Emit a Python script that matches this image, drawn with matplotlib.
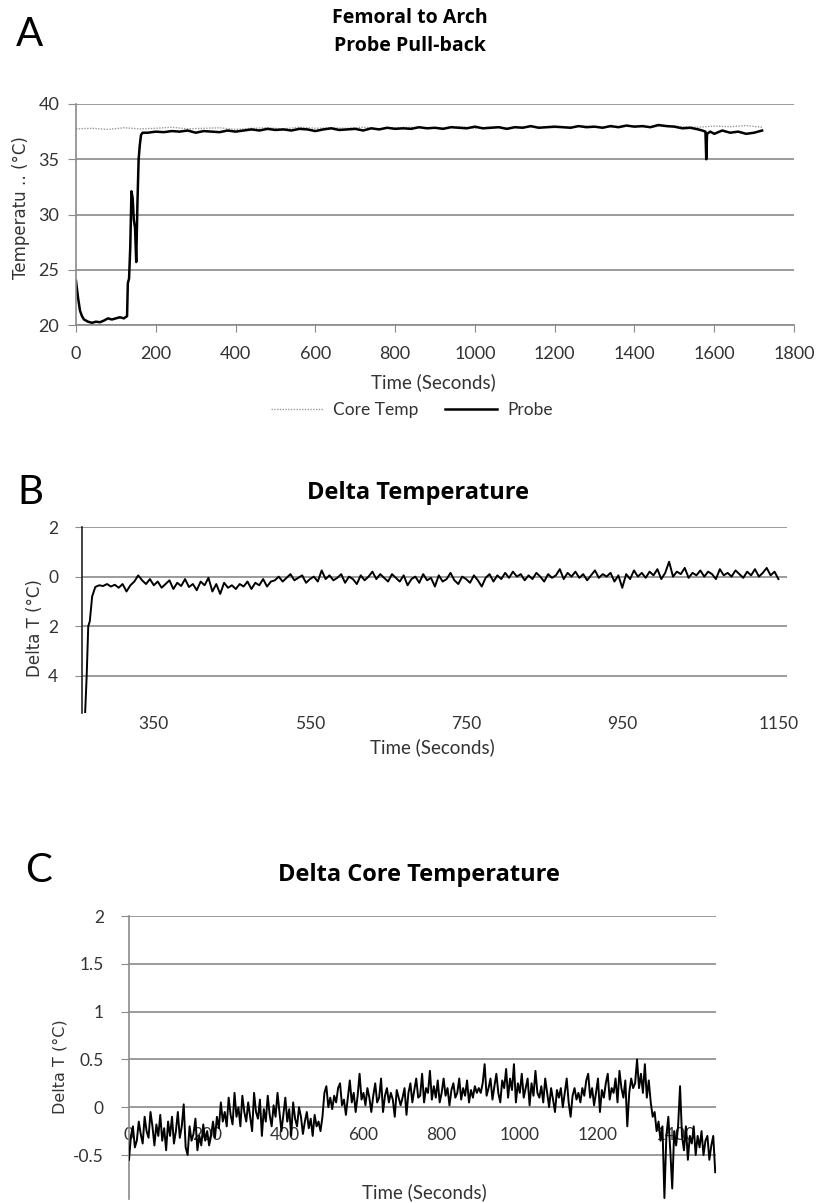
import numpy as np
import matplotlib.pyplot as plt

# figure is 819 x 1203 px
W, H = 819, 1203
plt.rcParams['font.family'] = ['Lato', 'DejaVu Sans']
TICKC = '#333333'
GRIDC = '#8a8a8a'

# ---- Panel A: femoral to arch pull-back ----
a_probe_t = [0, 5, 10, 15, 20, 30, 40, 50, 60, 70, 80, 90, 100, 110, 120, 128,
             130, 133, 136, 139, 142, 145, 148, 151, 154, 157, 160, 163, 167] + \
            list(range(180, 1561, 20)) + [1570, 1578, 1580, 1582, 1590] + list(range(1600, 1721, 20))
a_probe = [24.0, 22.5, 21.3, 20.8, 20.5, 20.3, 20.2, 20.3, 20.25, 20.4, 20.6, 20.5, 20.6, 20.7, 20.6, 20.8,
           23.8, 24.2, 27.0, 32.1, 31.5, 29.5, 28.8, 25.7, 31.0, 35.0, 36.3, 37.2, 37.4,
           # 180-400
           37.4, 37.5, 37.45, 37.55, 37.5, 37.6, 37.4, 37.55, 37.5, 37.45, 37.6, 37.5,
           # 420-800
           37.6, 37.7, 37.6, 37.75, 37.65, 37.7, 37.6, 37.75, 37.7, 37.55,
           37.7, 37.8, 37.65, 37.7, 37.75, 37.6, 37.8, 37.7, 37.85, 37.75,
           # 820-1200
           37.8, 37.75, 37.9, 37.8, 37.85, 37.75, 37.9, 37.85, 37.8, 37.95,
           37.8, 37.85, 37.9, 37.75, 37.9, 37.85, 38.0, 37.85, 37.9, 37.95,
           # 1220-1560
           37.9, 37.85, 38.0, 37.9, 37.95, 37.85, 38.0, 37.9, 38.05, 37.95,
           38.0, 37.9, 38.1, 38.0, 37.95, 37.8, 37.85, 37.7,
           # spike
           37.6, 37.5, 35.0, 37.3, 37.5,
           # 1600-1720
           37.3, 37.6, 37.4, 37.5, 37.3, 37.4, 37.6]
a_core_t = list(range(0, 1721, 40))
a_core = [37.75, 37.8, 37.7, 37.85, 37.75, 37.8, 37.9, 37.75, 37.8, 37.85,
          37.7, 37.8, 37.85, 37.75, 37.9, 37.8, 37.85, 37.8, 37.9, 37.75,
          37.85, 37.9, 37.8, 37.85, 37.95, 37.8, 37.9, 37.85, 37.95, 37.9,
          37.85, 37.95, 38.0, 37.9, 37.95, 38.0, 37.9, 38.05, 37.95, 37.9,
          38.0, 37.95, 38.05, 37.9]

# ---- Panel B: delta temperature ----
b_t = [262, 264, 266, 268, 271] + list(range(275, 1151, 5))
b_delta = [-5.5, -4.0, -2.0, -1.8, -0.8,
           # 275-350
           -0.42, -0.35, -0.38, -0.3, -0.4, -0.33, -0.45, -0.3, -0.6, -0.35, -0.2, 0.05, -0.15, -0.3, -0.1, -0.35,
           # 355-500
           -0.2, -0.45, -0.3, -0.15, -0.5, -0.25, -0.38, -0.1, -0.42, -0.3,
           -0.55, -0.2, -0.35, -0.05, -0.6, -0.3, -0.7, -0.25, -0.45, -0.35,
           -0.5, -0.3, -0.4, -0.2, -0.5, -0.25, -0.35, -0.1, -0.4, -0.2,
           # 505-650
           -0.15, 0.0, -0.2, -0.05, 0.1, -0.15, -0.05, 0.05, -0.25, -0.1,
           0.0, -0.2, 0.25, -0.1, 0.05, -0.15, -0.05, 0.1, -0.25, 0.0,
           -0.1, -0.3, 0.05, -0.15, 0.0, 0.2, -0.1, 0.1, -0.05, -0.2,
           # 655-800
           0.1, -0.05, -0.2, 0.05, -0.35, -0.1, 0.0, -0.25, 0.1, -0.15,
           -0.05, -0.4, 0.05, -0.2, -0.1, 0.15, -0.15, -0.3, 0.0, -0.1,
           -0.25, 0.05, -0.15, -0.4, -0.05, 0.1, -0.2, 0.05, -0.1, 0.15,
           # 805-950
           -0.05, 0.2, 0.0, 0.1, -0.15, 0.05, -0.1, 0.15, 0.0, -0.2,
           0.1, -0.05, 0.05, 0.3, -0.1, 0.15, 0.0, 0.2, -0.05, 0.1,
           -0.15, 0.05, 0.25, -0.05, 0.1, 0.0, 0.15, -0.2, 0.05, -0.45,
           # 955-1150
           0.1, -0.1, 0.25, 0.0, 0.15, -0.05, 0.2, 0.05, 0.3, -0.1,
           0.15, 0.6, 0.0, 0.2, 0.1, 0.35, -0.05, 0.15, 0.05, 0.25,
           0.0, 0.2, 0.1, -0.1, 0.3, 0.05, 0.15, 0.0, 0.25, 0.1,
           -0.05, 0.2, 0.05, 0.3, 0.0, 0.15, 0.35, 0.05, 0.2, -0.1]
b_xticks = [350, 550, 750, 950, 1150]
b_yticks = [-4, -2, 0, 2]
b_yticklabels = ['4', '2', '0', '2']   # minus signs are lost in the source

# ---- Panel C: delta core temperature (every 5 s) ----
c_t = list(range(0, 1501, 5))
c_delta = [
    # 0-195
    -0.55, -0.3, -0.2, -0.42, -0.35, -0.15, -0.28, -0.38, -0.1, -0.25,
    -0.32, -0.05, -0.2, -0.4, -0.18, -0.3, -0.08, -0.35, -0.22, -0.45,
    -0.15, -0.3, -0.1, -0.38, -0.25, -0.05, -0.32, -0.2, 0.03, -0.42,
    -0.5, -0.2, -0.35, -0.28, -0.12, -0.45, -0.3, -0.4, -0.18, -0.35,
    # 200-295
    -0.25, -0.4, -0.3, -0.15, -0.32, -0.1, -0.22, 0.05, -0.15, -0.05,
    -0.2, 0.1, -0.08, -0.18, 0.15, -0.1, 0.0, -0.2, 0.12, -0.05,
    # 300-495
    -0.15, 0.05, -0.1, -0.25, 0.15, -0.05, -0.12, 0.08, -0.3, -0.02,
    -0.15, 0.12, -0.08, -0.2, 0.02, -0.1, 0.15, -0.05, -0.25, -0.08,
    0.1, -0.15, -0.02, -0.3, 0.05, -0.12, -0.2, 0.0, -0.1, -0.28,
    -0.15, -0.05, -0.22, -0.12, -0.3, -0.08, -0.2, -0.15, -0.25, -0.1,
    # 500-695
    0.15, 0.22, 0.0, 0.1, -0.02, 0.12, 0.05, 0.2, 0.25, 0.02,
    0.08, -0.08, 0.1, 0.28, 0.05, 0.15, -0.05, 0.12, 0.35, 0.08,
    0.15, 0.02, 0.2, 0.1, -0.05, 0.12, 0.25, 0.05, 0.1, 0.3,
    -0.05, 0.12, 0.2, 0.05, 0.15, 0.08, -0.1, 0.18, 0.1, 0.02,
    # 700-895
    0.1, 0.2, -0.08, 0.15, 0.25, 0.05, 0.18, 0.3, 0.1, 0.12,
    0.35, 0.05, 0.2, 0.15, 0.38, 0.08, 0.22, 0.1, 0.28, 0.05,
    0.15, 0.3, 0.12, 0.2, 0.02, 0.18, 0.25, 0.1, 0.15, 0.3,
    0.08, 0.2, 0.12, 0.28, 0.05, 0.18, 0.1, 0.22, 0.15, 0.2,
    # 900-1095
    0.15, 0.25, 0.45, 0.12, 0.2, 0.3, 0.08, 0.22, 0.35, 0.15,
    0.05, 0.28, 0.2, 0.4, 0.1, 0.3, 0.18, 0.45, 0.05, 0.25,
    0.15, 0.35, 0.1, 0.2, 0.3, 0.02, 0.25, 0.12, 0.38, 0.15,
    0.1, 0.22, 0.05, 0.3, 0.15, 0.0, 0.2, 0.08, -0.05, 0.18,
    # 1100-1295
    0.1, 0.2, 0.0, 0.15, 0.3, 0.05, -0.1, 0.12, 0.2, 0.08,
    0.15, 0.05, 0.2, 0.12, 0.28, 0.35, 0.1, 0.2, 0.02, 0.15,
    0.3, -0.05, 0.18, 0.1, 0.25, 0.35, 0.08, 0.2, 0.15, 0.3,
    0.05, 0.38, 0.2, 0.1, 0.28, -0.2, 0.15, 0.3, 0.2, 0.25,
    # 1300-1500
    0.5, 0.2, 0.35, 0.15, 0.45, 0.1, 0.28,
    0.05, -0.1, -0.05, -0.25, -0.15, -0.35, -0.2,
    -0.95,
    -0.3, -0.1, -0.45, -0.85, -0.25, -0.4, -0.2,
    0.22,
    -0.3, -0.45, -0.2, -0.55, -0.3, -0.38, -0.2, -0.5, -0.3, -0.42,
    -0.25, -0.5, -0.35, -0.3, -0.55, -0.4, -0.3, -0.68]
c_xticks = [0, 200, 400, 600, 800, 1000, 1200, 1400]
c_yticks = [-0.5, 0, 0.5, 1, 1.5, 2]
c_yticklabels = ['-0.5', '0', '0.5', '1', '1.5', '2']

TITLE_FONT = ['Open Sans', 'DejaVu Sans']


def box(l, t, r, b):
    return [l / W, 1 - b / H, (r - l) / W, (b - t) / H]


fig = plt.figure(figsize=(W / 100, H / 100), dpi=100)

# ---------------- A ----------------
ax = fig.add_axes(box(76, 104, 794, 325))
core_line, = ax.plot(a_core_t, a_core, color='#9a9a9a', lw=1.0, ls=(0, (1, 1)), label='Core Temp')
probe_line, = ax.plot(a_probe_t, a_probe, color='black', lw=1.8, label='Probe')
ax.set_xlim(0, 1800)
ax.set_ylim(20, 40)
ax.set_xticks(range(0, 1801, 200))
ax.set_yticks(range(20, 41, 5))
ax.grid(axis='y', color=GRIDC, lw=1.2)
for s in ['top', 'right']:
    ax.spines[s].set_visible(False)
for s in ['left', 'bottom']:
    ax.spines[s].set_color(GRIDC)
    ax.spines[s].set_linewidth(1.2)
ax.tick_params(axis='y', length=6, color=GRIDC, pad=6, labelsize=13, labelcolor=TICKC)
ax.tick_params(axis='x', length=5, color=GRIDC, pad=10, labelsize=13, labelcolor=TICKC)
fig.text(410 / W, 1 - 18 / H, 'Femoral to Arch', ha='center', va='center',
         fontsize=14, fontweight='bold', family=TITLE_FONT)
fig.text(410 / W, 1 - 46 / H, 'Probe Pull-back', ha='center', va='center',
         fontsize=14, fontweight='bold', family=TITLE_FONT)
fig.text(30 / W, 1 - 34 / H, 'A', ha='center', va='center', fontsize=29)
fig.text(433 / W, 1 - 382 / H, 'Time (Seconds)', ha='center', va='center', fontsize=13.5, color=TICKC)
fig.text(21 / W, 1 - 208 / H, 'Temperatu \u2025 (\u00b0C)', ha='center', va='center', rotation=90,
         fontsize=12, color=TICKC, family='DejaVu Sans')
fig.legend(handles=[core_line, probe_line], loc='center', bbox_to_anchor=(412 / W, 1 - 410 / H),
           ncol=2, frameon=False, fontsize=12.5, handlelength=3.0, columnspacing=1.5,
           handletextpad=0.6, labelcolor=TICKC)

# ---------------- B ----------------
ax = fig.add_axes(box(82, 527, 787, 713))
ax.plot(b_t, b_delta, color='black', lw=1.4)
ax.set_xlim(258, 1161)
ax.set_ylim(-5.5, 2)
ax.set_xticks(b_xticks)
ax.set_yticks(b_yticks)
ax.set_yticklabels(b_yticklabels)
ax.grid(axis='y', color=GRIDC, lw=1.2)
for s in ['top', 'right', 'bottom']:
    ax.spines[s].set_visible(False)
ax.spines['left'].set_color('#222222')
ax.spines['left'].set_linewidth(1.2)
ax.tick_params(axis='y', length=5, color=GRIDC, pad=12, labelsize=12.5, labelcolor=TICKC)
ax.tick_params(axis='x', length=0, pad=2, labelsize=12.5, labelcolor=TICKC)
fig.text(418 / W, 1 - 493 / H, 'Delta Temperature', ha='center', va='center',
         fontsize=17, fontweight='bold', family=TITLE_FONT)
fig.text(30 / W, 1 - 492 / H, 'B', ha='center', va='center', fontsize=29)
fig.text(432 / W, 1 - 747 / H, 'Time (Seconds)', ha='center', va='center', fontsize=13.5, color=TICKC)
fig.text(35 / W, 1 - 628 / H, 'Delta T (\u00b0C)', ha='center', va='center', rotation=90,
         fontsize=12, color=TICKC, family='DejaVu Sans')

# ---------------- C ----------------
ax = fig.add_axes(box(129, 916, 716, 1199))
ax.plot(c_t, c_delta, color='black', lw=1.4, zorder=3)
ax.set_xlim(0, 1502)
ax.set_ylim(-0.96, 2)
ax.set_xticks(c_xticks)
ax.set_yticks(c_yticks)
ax.set_yticklabels(c_yticklabels)
ax.grid(axis='y', color=GRIDC, lw=1.2)
for s in ['top', 'right']:
    ax.spines[s].set_visible(False)
ax.spines['bottom'].set_position(('data', 0))
ax.spines['bottom'].set_visible(False)
ax.spines['left'].set_color(GRIDC)
ax.spines['left'].set_linewidth(1.2)
ax.tick_params(axis='y', length=6, color=GRIDC, pad=12, labelsize=12.5, labelcolor=TICKC)
ax.tick_params(axis='x', length=0, pad=14, labelsize=12.5, labelcolor=TICKC)
fig.text(419 / W, 1 - 875 / H, 'Delta Core Temperature', ha='center', va='center',
         fontsize=17, fontweight='bold', family=TITLE_FONT)
fig.text(39 / W, 1 - 870 / H, 'C', ha='center', va='center', fontsize=29)
fig.text(424 / W, 1 - 1192 / H, 'Time (Seconds)', ha='center', va='center', fontsize=13.5, color=TICKC)
fig.text(60 / W, 1 - 1067 / H, 'Delta T (\u00b0C)', ha='center', va='center', rotation=90,
         fontsize=11.5, color=TICKC, family='DejaVu Sans')

fig.savefig('out.png', dpi=100)
